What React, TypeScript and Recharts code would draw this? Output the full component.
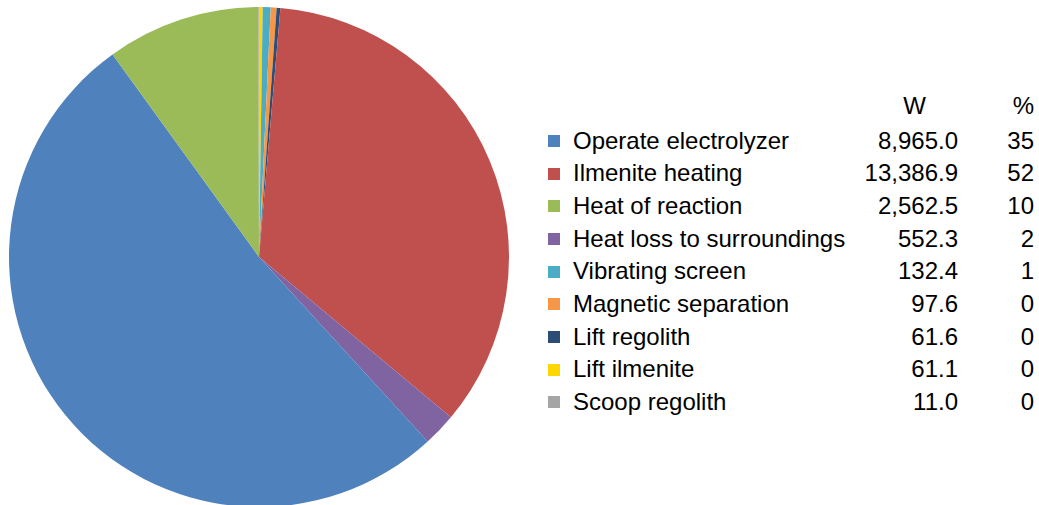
import React from 'react';
import { PieChart, Pie, Cell } from 'recharts';

// Legend table, in the order shown on the right
const categories = [
  'Operate electrolyzer',
  'Ilmenite heating',
  'Heat of reaction',
  'Heat loss to surroundings',
  'Vibrating screen',
  'Magnetic separation',
  'Lift regolith',
  'Lift ilmenite',
  'Scoop regolith',
];
const watts = [8965.0, 13386.9, 2562.5, 552.3, 132.4, 97.6, 61.6, 61.1, 11.0];
const percents = [35, 52, 10, 2, 1, 0, 0, 0, 0];
const legendColors = [
  '#4F81BD',
  '#C0504D',
  '#9BBB59',
  '#8064A2',
  '#4BACC6',
  '#F79646',
  '#2C4D75',
  '#FFD700',
  '#A5A5A5',
];

// Slices clockwise from 12 o'clock, with the colours they carry in the picture
const pieOrder = [7, 4, 5, 6, 0, 3, 1, 2, 8];
const pieColors = [
  '#FFD700',
  '#4BACC6',
  '#F79646',
  '#2C4D75',
  '#C0504D',
  '#8064A2',
  '#4F81BD',
  '#9BBB59',
  '#A5A5A5',
];

const FONT = '"Liberation Sans", Arial, sans-serif';
const ROW_H = 32.67;
const FIRST_ROW_TOP = 124.6;

function fmt(v: number): string {
  return v.toLocaleString('en-US', { minimumFractionDigits: 1, maximumFractionDigits: 1 });
}

const pieData = pieOrder.map((idx) => ({ name: categories[idx], value: watts[idx] }));

const App: React.FC = () => {
  const textStyle: React.CSSProperties = {
    position: 'absolute',
    fontFamily: FONT,
    fontSize: 24,
    lineHeight: `${ROW_H}px`,
    height: ROW_H,
    color: '#000',
    whiteSpace: 'nowrap',
  };

  return (
    <div style={{ position: 'absolute', left: 0, top: 0, width: 1039, height: 505, background: '#fff', overflow: 'hidden' }}>
      <PieChart width={1039} height={505} margin={{ top: 0, right: 0, bottom: 0, left: 0 }}>
        <Pie
          data={pieData}
          dataKey="value"
          nameKey="name"
          cx={259}
          cy={257}
          outerRadius={250}
          startAngle={90}
          endAngle={-270}
          stroke="none"
          isAnimationActive={false}
        >
          {pieData.map((d, i) => (
            <Cell key={d.name} fill={pieColors[i]} />
          ))}
        </Pie>
      </PieChart>

      {/* table legend */}
      <div style={{ ...textStyle, top: 90.4, left: 858, width: 100, textAlign: 'right' }}>
        <span style={{ marginRight: 32 }}>W</span>
      </div>
      <div style={{ ...textStyle, top: 90.4, left: 984, width: 50, textAlign: 'right' }}>%</div>
      {categories.map((name, i) => {
        const top = FIRST_ROW_TOP + i * ROW_H;
        return (
          <React.Fragment key={name}>
            <div
              style={{
                position: 'absolute',
                left: 548,
                top: top + ROW_H / 2 - 6,
                width: 12,
                height: 12,
                background: legendColors[i],
              }}
            />
            <div style={{ ...textStyle, top, left: 573 }}>{name}</div>
            <div style={{ ...textStyle, top, left: 838, width: 120, textAlign: 'right' }}>{fmt(watts[i])}</div>
            <div style={{ ...textStyle, top, left: 984, width: 50, textAlign: 'right' }}>{percents[i]}</div>
          </React.Fragment>
        );
      })}
    </div>
  );
};

export default App;
